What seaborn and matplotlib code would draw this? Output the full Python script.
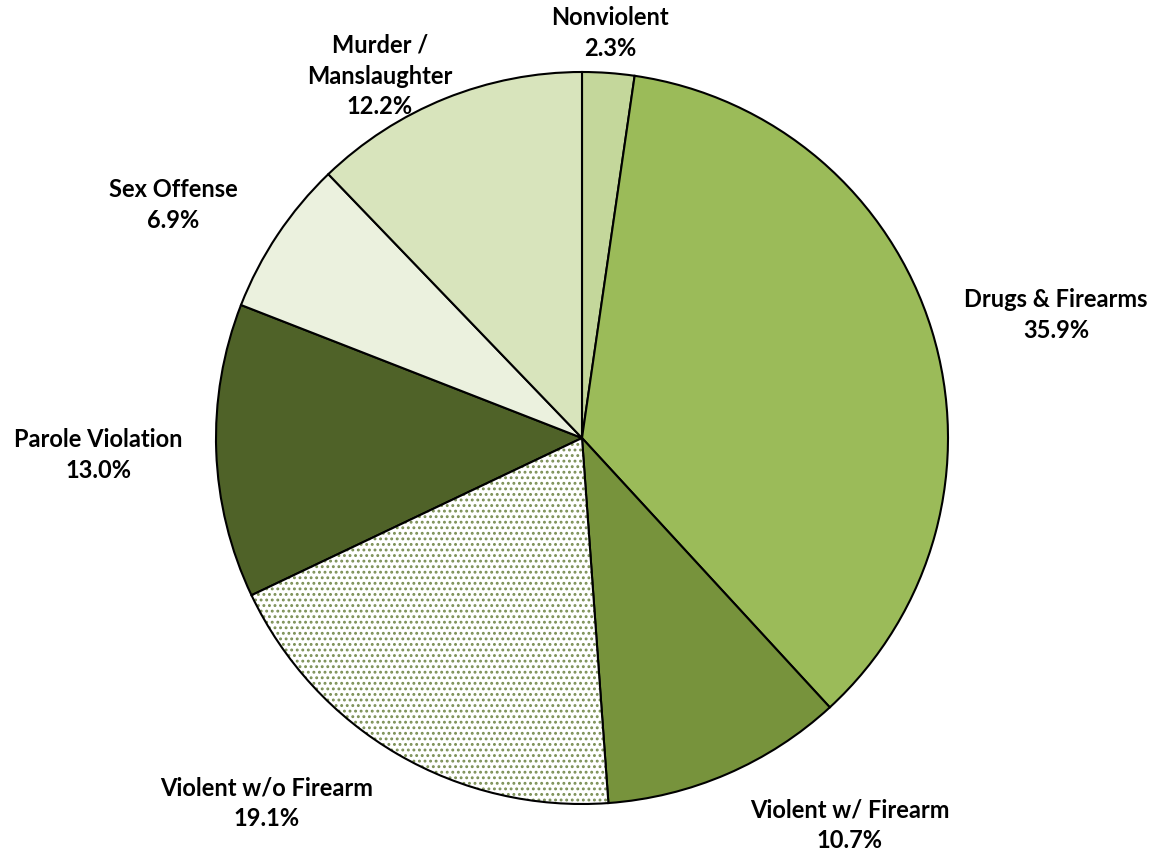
import matplotlib
matplotlib.use("Agg")
import matplotlib.pyplot as plt
from matplotlib.patches import Wedge
import seaborn as sns

# Offense categories, clockwise from 12 o'clock
categories = ["Nonviolent", "Drugs & Firearms", "Violent w/ Firearm",
              "Violent w/o Firearm", "Parole Violation", "Sex Offense",
              "Murder /\nManslaughter"]
shares = [2.3, 35.9, 10.7, 19.1, 13.0, 6.9, 12.2]

colors = ["#c4d79b", "#9bbb59", "#77933c", "#ffffff", "#4f6228",
          "#ebf1de", "#d8e4bc"]
dotted = "Violent w/o Firearm"
dot_color = "#7b8f55"

# label anchor positions in pie-radius units (x, y from the centre)
label_pos = [(0.077, 1.107), (1.295, 0.336), (0.732, -1.057),
             (-0.863, -0.997), (-1.322, -0.046), (-1.117, 0.637),
             (-0.552, 0.989)]

sns.set_theme(style="white")
plt.rcParams["font.family"] = ["Lato", "DejaVu Sans"]
plt.rcParams["hatch.linewidth"] = 1.3

fig = plt.figure(figsize=(11.58, 8.55), dpi=100)
ax = fig.add_axes([0, 0, 1, 1])

cx, cy, r = 582, 438, 366
wedges, _ = ax.pie(shares, colors=colors, startangle=90, counterclock=False,
                   radius=1, center=(0, 0),
                   wedgeprops=dict(edgecolor="black", linewidth=1.5))

for w, cat in zip(wedges, categories):
    if cat == dotted:
        w.set_facecolor("none")
        w.set_zorder(3)
        bg = Wedge(w.center, w.r, w.theta1, w.theta2, facecolor="white",
                   edgecolor=dot_color, linewidth=0, hatch="...", zorder=1)
        ax.add_patch(bg)

for cat, val, (lx, ly) in zip(categories, shares, label_pos):
    ax.text(lx, ly, f"{cat}\n{val:.1f}%", ha="center", va="center",
            fontsize=17, fontweight="bold", color="black", linespacing=1.4)

ax.set_xlim(-cx / r, (1158 - cx) / r)
ax.set_ylim(-(855 - cy) / r, cy / r)
ax.set_aspect("equal")
ax.axis("off")

fig.savefig("out.png", dpi=100, facecolor="white")
